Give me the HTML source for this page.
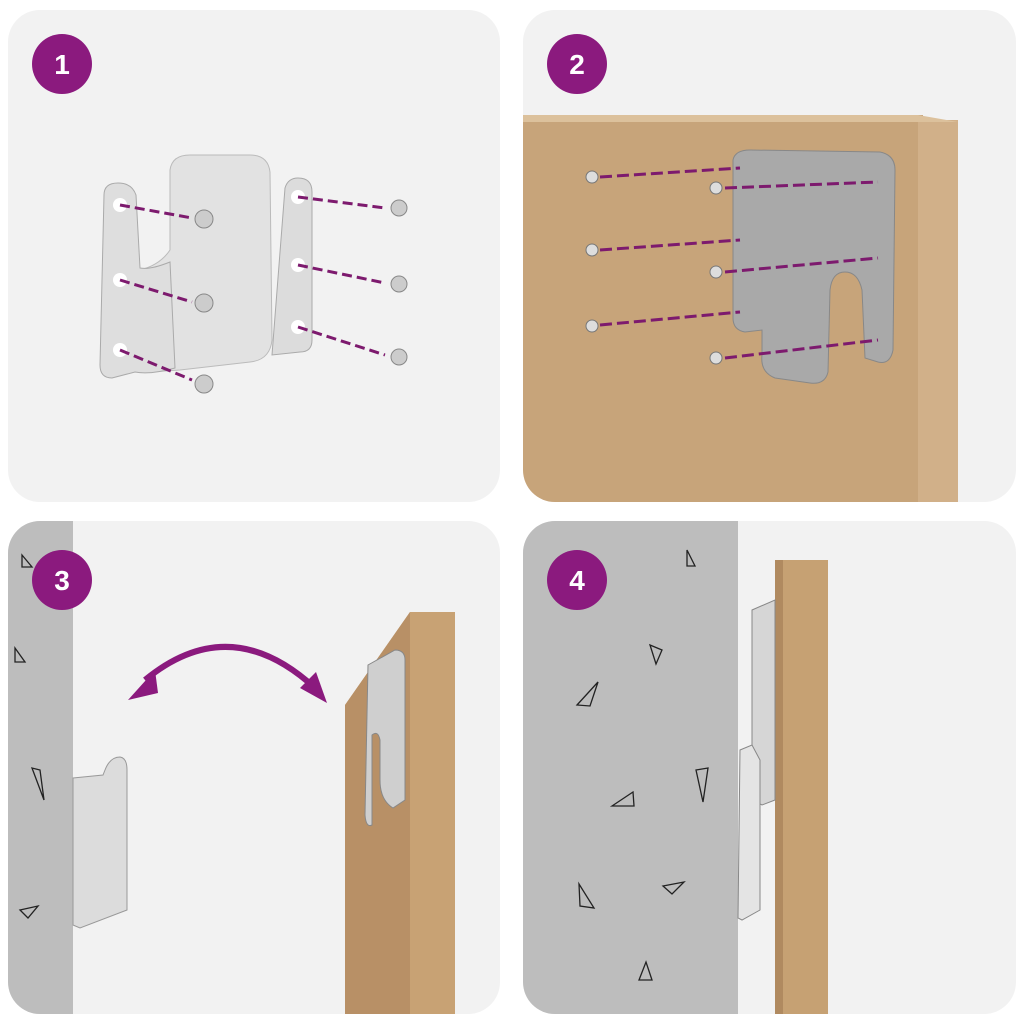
<!DOCTYPE html>
<html><head><style>
html,body{margin:0;padding:0;background:#fff;}
svg{display:block}
</style></head><body>
<svg width="1024" height="1024" viewBox="0 0 1024 1024" xmlns="http://www.w3.org/2000/svg">
<defs>
<clipPath id="c2"><rect x="523" y="10" width="493" height="492" rx="32"/></clipPath>
<clipPath id="c3"><rect x="8" y="521" width="492" height="493" rx="32"/></clipPath>
<clipPath id="c4"><rect x="523" y="521" width="493" height="493" rx="32"/></clipPath>
</defs>
<!-- panel 1 -->
<rect x="8" y="10" width="492" height="492" rx="32" fill="#f2f2f2"/>
<g>
<path d="M170 170 Q172 155 190 155 L250 155 Q268 155 270 172 L272 340 Q270 360 250 362 L180 370 L150 372 L140 270 Q160 265 170 250 Z" fill="#e2e2e2" stroke="#bbb"/>
<path d="M104 195 Q104 183 118 183 Q132 183 136 195 L140 268 Q150 270 170 262 L175 368 Q150 375 135 372 L112 378 Q100 378 100 365 Z" fill="#dedede" stroke="#aaa"/>
<path d="M285 188 Q288 178 298 178 Q312 178 312 192 L312 340 Q312 352 300 352 L272 355 Z" fill="#dcdcdc" stroke="#aaa"/>
<g fill="#fff"><circle cx="120" cy="205" r="7"/><circle cx="120" cy="280" r="7"/><circle cx="120" cy="350" r="7"/><circle cx="298" cy="197" r="7"/><circle cx="298" cy="265" r="7"/><circle cx="298" cy="327" r="7"/></g>
<g stroke="#7d1a6e" stroke-width="3" stroke-dasharray="10,5" fill="none">
<line x1="120" y1="205" x2="192" y2="218"/><line x1="120" y1="280" x2="192" y2="302"/><line x1="120" y1="350" x2="192" y2="380"/>
<line x1="298" y1="197" x2="385" y2="208"/><line x1="298" y1="265" x2="385" y2="283"/><line x1="298" y1="327" x2="385" y2="355"/>
</g>
<g fill="#ccc" stroke="#888"><circle cx="204" cy="219" r="9"/><circle cx="204" cy="303" r="9"/><circle cx="204" cy="384" r="9"/><circle cx="399" cy="208" r="8"/><circle cx="399" cy="284" r="8"/><circle cx="399" cy="357" r="8"/></g>
</g>
<!-- panel 2 -->
<g clip-path="url(#c2)">
<rect x="523" y="10" width="493" height="492" fill="#f2f2f2"/>
<rect x="523" y="115" width="400" height="400" fill="#c7a47a"/>
<rect x="918" y="120" width="40" height="395" fill="#d1b089"/>
<polygon points="523,115 918,115 958,122 523,122" fill="#dcc19c"/>
<path d="M733 160 Q735 150 750 150 L880 152 Q895 155 895 170 L893 350 Q890 365 878 362 L865 358 L862 290 Q858 272 845 272 Q832 272 830 290 L828 372 Q825 385 810 383 L775 378 Q760 372 762 355 L762 330 L745 332 Q733 330 733 318 Z" fill="#a9a9a9" stroke="#888"/>
<g stroke="#7d1a6e" stroke-width="3" stroke-dasharray="12,5" fill="none">
<line x1="600" y1="177" x2="740" y2="168"/><line x1="600" y1="250" x2="740" y2="240"/><line x1="600" y1="325" x2="740" y2="312"/>
<line x1="725" y1="188" x2="878" y2="182"/><line x1="725" y1="272" x2="878" y2="258"/><line x1="725" y1="358" x2="878" y2="340"/>
</g>
<g fill="#ddd" stroke="#777"><circle cx="592" cy="177" r="6"/><circle cx="592" cy="250" r="6"/><circle cx="592" cy="326" r="6"/><circle cx="716" cy="188" r="6"/><circle cx="716" cy="272" r="6"/><circle cx="716" cy="358" r="6"/></g>
</g>
<!-- panel 3 -->
<g clip-path="url(#c3)">
<rect x="8" y="521" width="492" height="493" fill="#f2f2f2"/>
<rect x="8" y="521" width="65" height="493" fill="#bdbdbd"/>
<path d="M73 778 L103 775 L105 770 Q110 757 120 757 Q127 758 127 770 L127 910 L80 928 L73 925 Z" fill="#dcdcdc" stroke="#999"/>
<polygon points="345,705 410,612 455,612 455,1014 345,1014" fill="#c8a274"/>
<polygon points="345,705 410,612 410,1014 345,1014" fill="#b89066"/>
<path d="M368 665 L395 650 Q405 650 405 660 L405 800 L393 808 Q380 800 380 780 L380 740 Q378 730 372 735 L372 825 Q366 828 365 815 Z" fill="#cfcfcf" stroke="#888"/>
<path d="M145 680 Q230 610 315 688" stroke="#8b1a7e" stroke-width="6" fill="none"/>
<polygon points="128,700 155,670 158,693" fill="#8b1a7e"/>
<polygon points="327,703 300,688 316,672" fill="#8b1a7e"/>
<g fill="none" stroke="#222" stroke-width="1.3"><polygon points="22,555 32,567 22,567"/><polygon points="15,648 25,662 15,662"/><polygon points="32,768 44,800 40,770"/><polygon points="20,910 38,906 28,918"/></g>
</g>
<!-- panel 4 -->
<g clip-path="url(#c4)">
<rect x="523" y="521" width="493" height="493" fill="#f2f2f2"/>
<rect x="523" y="521" width="215" height="493" fill="#bdbdbd"/>
<rect x="775" y="560" width="53" height="454" fill="#c6a173"/>
<rect x="775" y="560" width="8" height="454" fill="#b08a60"/>
<path d="M752 610 L775 600 L775 800 L762 805 L752 800 Z" fill="#d6d6d6" stroke="#888"/>
<path d="M740 750 L752 745 L760 760 L760 910 L742 920 L738 918 Z" fill="#e4e4e4" stroke="#888"/>
<g fill="none" stroke="#222" stroke-width="1.3"><polygon points="687,550 695,566 687,566"/><polygon points="650,645 662,650 656,664"/><polygon points="577,705 598,682 590,706"/><polygon points="612,806 633,792 634,806"/><polygon points="696,770 708,768 703,802"/><polygon points="579,884 594,908 580,906"/><polygon points="663,886 684,882 672,894"/><polygon points="639,980 646,962 652,980"/></g>
</g>
<!-- badges -->
<g font-family="Liberation Sans, sans-serif" font-weight="bold" font-size="28" fill="#fff" text-anchor="middle">
<circle cx="62" cy="64" r="30" fill="#8b1a7e"/><text x="62" y="74">1</text>
<circle cx="577" cy="64" r="30" fill="#8b1a7e"/><text x="577" y="74">2</text>
<circle cx="62" cy="580" r="30" fill="#8b1a7e"/><text x="62" y="590">3</text>
<circle cx="577" cy="580" r="30" fill="#8b1a7e"/><text x="577" y="590">4</text>
</g>
</svg>
</body></html>
